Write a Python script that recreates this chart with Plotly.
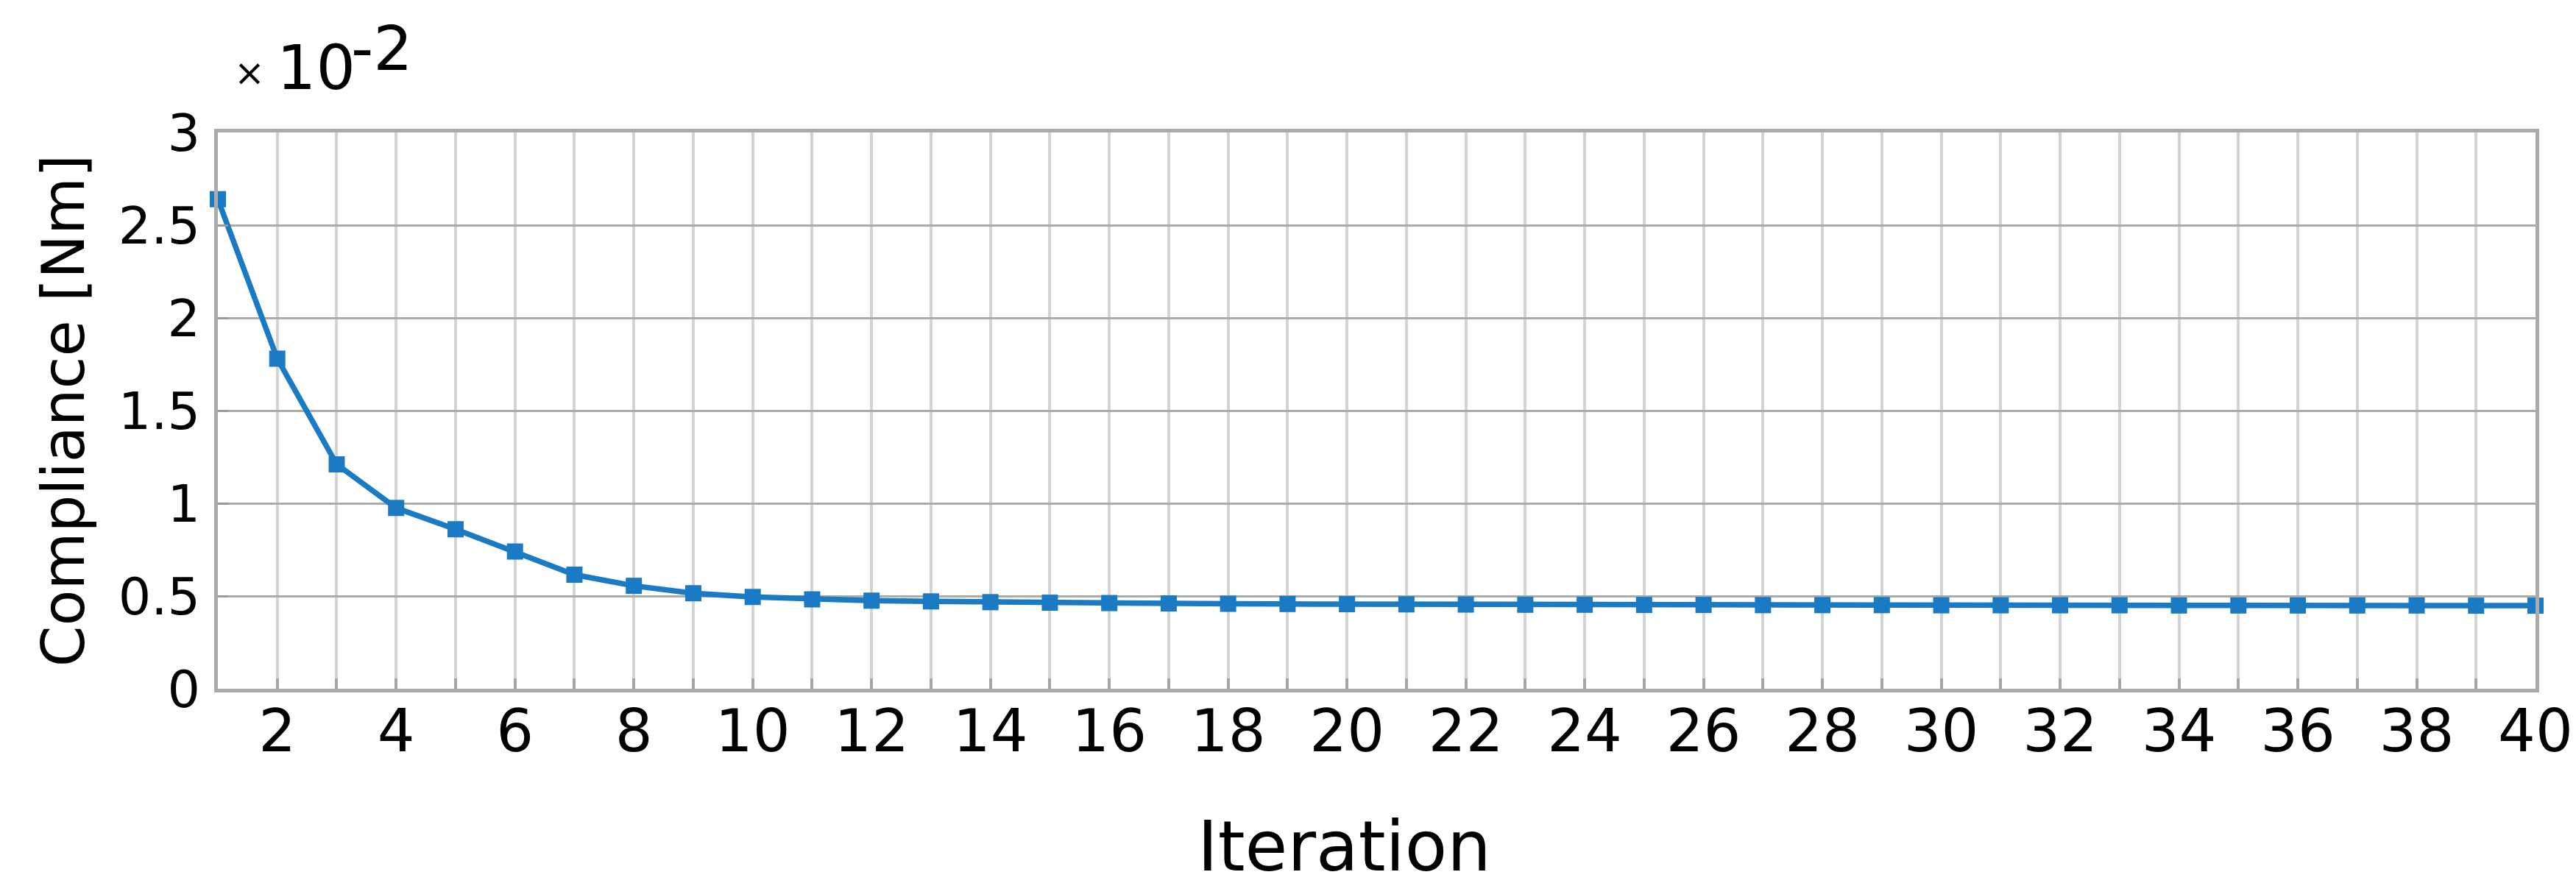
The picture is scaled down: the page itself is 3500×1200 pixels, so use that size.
import plotly.graph_objects as go

# Data (compliance values shown in units of 1e-2 Nm)
iterations = list(range(1, 41))
compliance = [2.64, 1.78, 1.21, 0.975, 0.86, 0.74, 0.615, 0.555, 0.515, 0.495,
              0.482, 0.475, 0.471, 0.467, 0.464, 0.462, 0.460, 0.458, 0.457, 0.456,
              0.455, 0.454, 0.453, 0.453, 0.452, 0.452, 0.451, 0.451, 0.451, 0.450,
              0.450, 0.450, 0.450, 0.449, 0.449, 0.449, 0.449, 0.449, 0.448, 0.448]
x_title = "Iteration"
y_title = "Compliance [Nm]"
scale_sign = "×"
scale_label = "10"
scale_exp = "-2"

FONT = "DejaVu Sans"
BLUE = "#1a7bc4"

fig = go.Figure()
fig.add_trace(go.Scatter(
    x=iterations, y=compliance, mode="lines+markers",
    line=dict(color=BLUE, width=7.5),
    marker=dict(symbol="square", size=22, color=BLUE),
    showlegend=False, cliponaxis=False,
))

fig.update_layout(
    width=3500, height=1200,
    margin=dict(l=288, r=57, t=172, b=272),
    paper_bgcolor="white", plot_bgcolor="white",
    font=dict(family=FONT, color="black"),
    xaxis=dict(
        range=[1, 40], tick0=0, dtick=2,
        showgrid=True, gridcolor="#d3d3d3", gridwidth=4,
        ticks="inside", ticklen=14, tickwidth=4, tickcolor="#a6a6a6",
        minor=dict(dtick=1, tick0=0, showgrid=True, gridcolor="#d3d3d3", gridwidth=4,
                   ticks="inside", ticklen=14, tickwidth=4, tickcolor="#a6a6a6"),
        showline=True, linecolor="#ababab", linewidth=5, mirror=True,
        tickfont=dict(size=80, family=FONT), ticklabelstandoff=-16,
        zeroline=False,
    ),
    yaxis=dict(
        range=[0, 3], dtick=0.5,
        showgrid=True, gridcolor="#ababab", gridwidth=3,
        ticks="inside", ticklen=14, tickwidth=3, tickcolor="#9a9a9a",
        showline=True, linecolor="#ababab", linewidth=5, mirror=True,
        tickfont=dict(size=70, family=FONT), ticklabelstandoff=5,
        zeroline=False,
    ),
)

# Axis titles
fig.add_annotation(xref="paper", yref="paper", x=0.486, y=-0.284, text=x_title,
                   showarrow=False, font=dict(size=94, family=FONT),
                   xanchor="center", yanchor="middle")
fig.add_annotation(xref="paper", yref="paper", x=-0.0666, y=0.5, text=y_title,
                   textangle=-90, showarrow=False, font=dict(size=80, family=FONT),
                   xanchor="center", yanchor="middle")

# Scale factor label (× 10^-2)
fig.add_annotation(xref="paper", yref="paper", x=0.0135, y=1.107, text=scale_sign,
                   showarrow=False, font=dict(size=50, family=FONT), xanchor="center", yanchor="middle")
fig.add_annotation(xref="paper", yref="paper", x=0.0247, y=1.116, text=scale_label,
                   showarrow=False, font=dict(size=84, family=FONT), xanchor="left", yanchor="middle")
fig.add_annotation(xref="paper", yref="paper", x=0.0567, y=1.151, text=scale_exp,
                   showarrow=False, font=dict(size=84, family=FONT), xanchor="left", yanchor="middle")

fig.write_html("out.html")
